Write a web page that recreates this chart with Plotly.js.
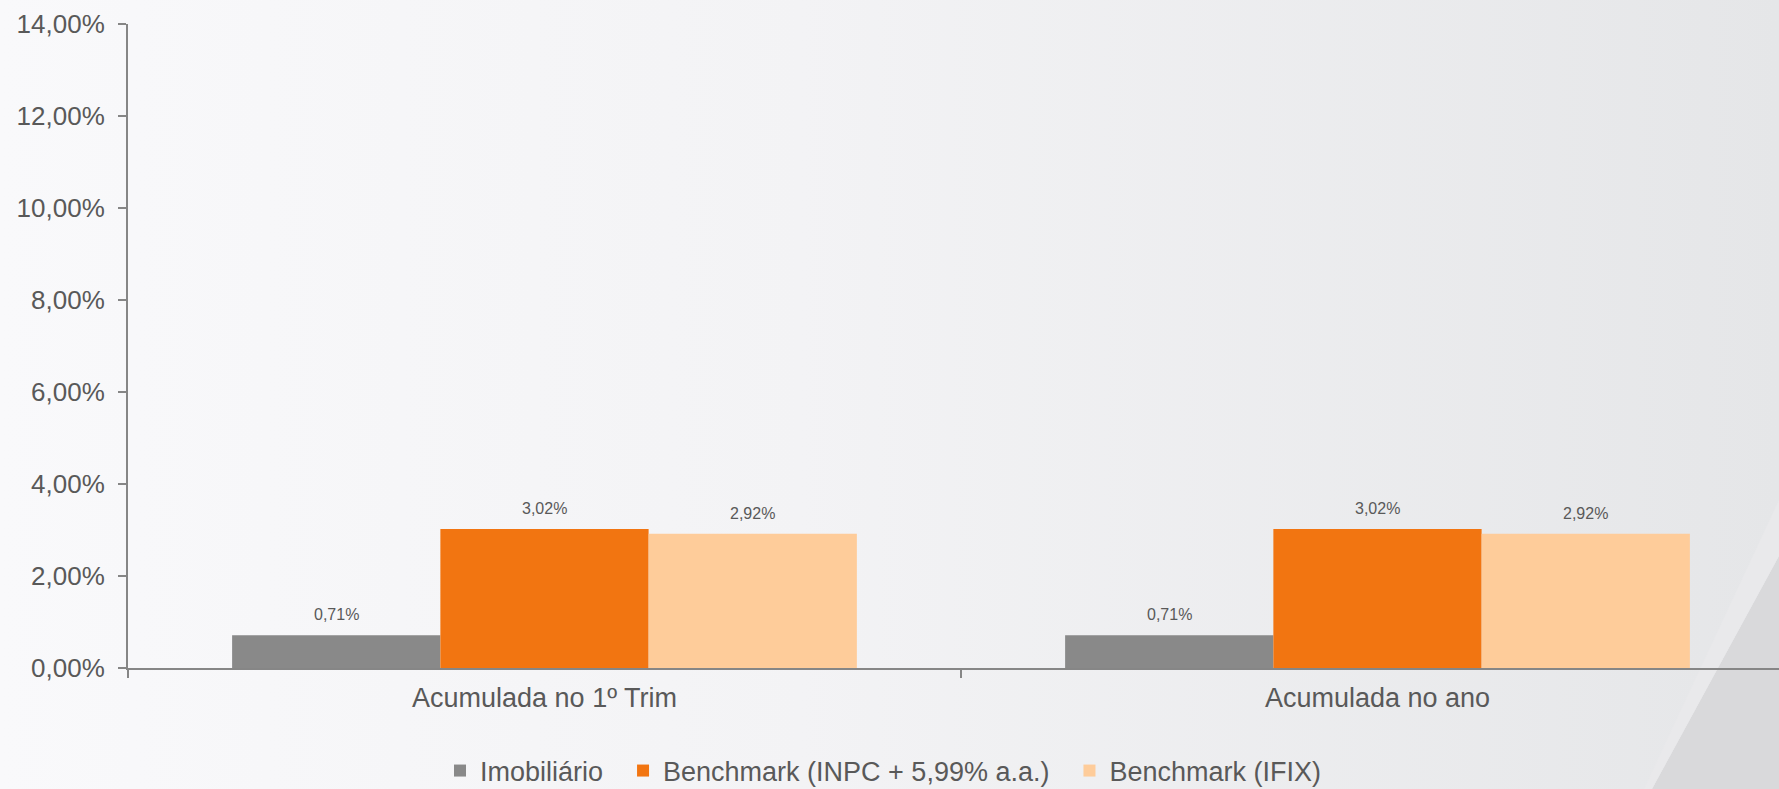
<!DOCTYPE html>
<html>
<head>
<meta charset="utf-8">
<script src="https://cdn.plot.ly/plotly-3.0.1.min.js"></script>
<style>
  html, body { margin: 0; padding: 0; }
  body { width: 1779px; height: 789px; overflow: hidden;
         background: linear-gradient(to right, #f9f9fb 0%, #f3f3f5 45%, #e5e6e8 100%); }
  #chart { width: 1779px; height: 789px; }
</style>
</head>
<body>
<div id="chart"></div>
<script>
// ---- data ----
const categories = ['Acumulada no 1º Trim', 'Acumulada no ano'];
const seriesNames = ['Imobiliário', 'Benchmark (INPC + 5,99% a.a.)', 'Benchmark (IFIX)'];
const imobiliario = [0.71, 0.71];
const benchmarkINPC = [3.02, 3.02];
const benchmarkIFIX = [2.92, 2.92];
const yTickValues = [0, 2, 4, 6, 8, 10, 12, 14];
const yTickLabels = ['0,00%', '2,00%', '4,00%', '6,00%', '8,00%', '10,00%', '12,00%', '14,00%'];

const seriesValues = [imobiliario, benchmarkINPC, benchmarkIFIX];
const seriesColors = ['#898989', '#f27511', '#fecc9a'];

const fmt = v => v.toFixed(2).replace('.', ',') + '%';

const W = 1779, H = 789;
const margin = {l: 128, r: 0, t: 24, b: 121, autoexpand: false};
const xRange = [-0.5, 1.482];
const bargap = 0.25;
const plotW = W - margin.l - margin.r;
const pxPerUnit = plotW / (xRange[1] - xRange[0]);
const barPx = (1 - bargap) / seriesValues.length * pxPerUnit;

// trailing no-break spaces widen legend entries to match the reference spacing
const legendPad = '\u00A0\u00A0';

const traces = seriesValues.map((vals, i) => ({
  type: 'bar',
  name: seriesNames[i] + legendPad,
  x: categories,
  y: vals,
  marker: {color: seriesColors[i], line: {width: 0}},
  hoverinfo: 'skip'
}));

const annotations = [];
seriesValues.forEach((vals, i) => {
  vals.forEach((v, j) => {
    annotations.push({
      x: categories[j], y: v, xref: 'x', yref: 'y',
      text: fmt(v), showarrow: false,
      xanchor: 'center', yanchor: 'bottom',
      xshift: (i - (seriesValues.length - 1) / 2) * barPx,
      yshift: 10,
      font: {family: 'Liberation Sans, Arial, sans-serif', size: 16, color: '#595959'}
    });
  });
});

const ph = H - margin.t - margin.b;
const px = X => (X - margin.l) / plotW;
const py = Y => (H - margin.b - Y) / ph;

const layout = {
  width: W, height: H,
  margin: margin,
  paper_bgcolor: 'rgba(0,0,0,0)',
  plot_bgcolor: 'rgba(0,0,0,0)',
  barmode: 'group',
  bargap: bargap,
  bargroupgap: 0,
  showlegend: true,
  font: {family: 'Liberation Sans, Arial, sans-serif', color: '#595959'},
  xaxis: {
    type: 'category',
    range: xRange,
    automargin: false,
    showline: true, linecolor: '#868686', linewidth: 2,
    ticks: 'outside', tickson: 'boundaries', ticklen: 8, tickwidth: 1.5, tickcolor: '#868686',
    tickfont: {size: 27, color: '#595959'},
    showgrid: false, zeroline: false, fixedrange: true,
    ticklabelstandoff: 5
  },
  yaxis: {
    range: [0, 14],
    automargin: false,
    tickvals: yTickValues, ticktext: yTickLabels,
    showline: true, linecolor: '#868686', linewidth: 2,
    ticks: 'outside', ticklen: 8, tickwidth: 1.5, tickcolor: '#868686',
    tickfont: {size: 26, color: '#595959'},
    showgrid: false, zeroline: false, fixedrange: true,
    ticklabelstandoff: 8
  },
  legend: {
    orientation: 'h',
    x: px(440), xanchor: 'left',
    y: py(771), yanchor: 'middle',
    font: {size: 27, color: '#595959'},
    bgcolor: 'rgba(0,0,0,0)',
    traceorder: 'normal'
  },
  annotations: annotations,
  shapes: [
    {type: 'path', xref: 'paper', yref: 'paper', layer: 'below',
     path: `M ${px(1779)} ${py(556)} L ${px(1652)} ${py(789)} L ${px(1779)} ${py(789)} Z`,
     fillcolor: '#d9d9db', line: {width: 0}},
    {type: 'path', xref: 'paper', yref: 'paper', layer: 'below',
     path: `M ${px(1779)} ${py(500)} L ${px(1644)} ${py(789)} L ${px(1652)} ${py(789)} L ${px(1779)} ${py(556)} Z`,
     fillcolor: '#e9e9eb', line: {width: 0}}
  ]
};

Plotly.newPlot('chart', traces, layout, {displayModeBar: false, staticPlot: true});
</script>
</body>
</html>
